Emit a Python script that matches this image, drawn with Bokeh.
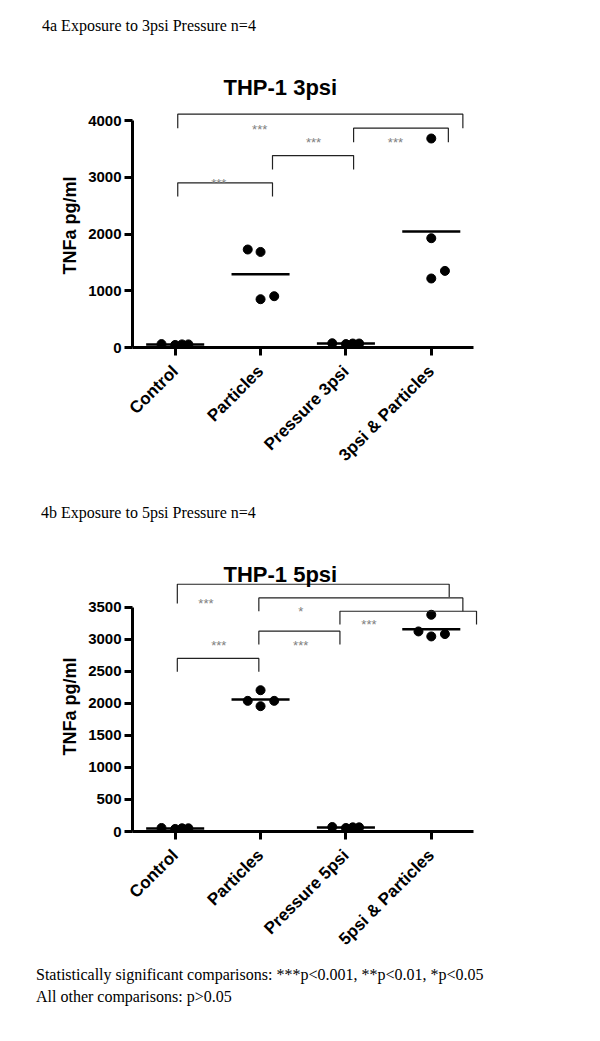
import numpy as np
from bokeh.plotting import figure
from bokeh.models import ColumnDataSource, FixedTicker, Div, Range1d, CustomJSTickFormatter
from bokeh.layouts import column
from bokeh.embed import file_html
from bokeh.resources import INLINE
from bokeh.core.properties import value

# ---------------- data ----------------
categories_3 = ["Control", "Particles", "Pressure 3psi", "3psi & Particles"]
categories_5 = ["Control", "Particles", "Pressure 5psi", "5psi & Particles"]

# THP-1 3psi, TNFa pg/ml (n=4)
control_3 = [60, 45, 55, 55]
particles_3 = [1727, 1684, 851, 904]
pressure_3 = [75, 60, 70, 70]
combo_3 = [3683, 1926, 1216, 1350]
jitter_3 = [[-0.16, 0.0, 0.08, 0.155], [-0.15, 0.0, 0.0, 0.16],
            [-0.16, 0.0, 0.08, 0.155], [0.0, 0.0, 0.0, 0.16]]

# THP-1 5psi, TNFa pg/ml (n=4)
control_5 = [55, 40, 50, 50]
particles_5 = [2204, 2038, 1955, 2038]
pressure_5 = [70, 55, 65, 65]
combo_5 = [3381, 3121, 3043, 3080]
jitter_5 = [[-0.16, 0.0, 0.08, 0.155], [0.0, -0.15, 0.0, 0.16],
            [-0.16, 0.0, 0.08, 0.155], [0.0, -0.15, 0.0, 0.16]]

yticks_3 = [0, 1000, 2000, 3000, 4000]
yticks_5 = [0, 500, 1000, 1500, 2000, 2500, 3000, 3500]

# significance brackets (category units / pg/ml)
br3_x0 = [0.03, 1.14, 2.09, 0.03]
br3_x1 = [1.14, 2.09, 3.20, 3.37]
br3_y = [2902, 3383, 3865, 4111]
br3_drop0 = [2660, 3137, 3618, 3865]
br3_drop1 = [2660, 3137, 3618, 3865]
br3_text = ["***", "***", "***", "***"]
br3_tx = [0.51, 1.62, 2.58, 0.99]
br3_ty = [2943, 3665, 3665, 3899]

br5_x0 = [0.025, 0.98, 1.93, 0.98, 0.025]
br5_x1 = [0.98, 1.93, 3.53, 3.37, 3.21]
br5_y = [2700, 3125, 3436, 3643, 3857]
br5_drop0 = [2491, 2918, 3229, 3436, 3556]
br5_drop1 = [2491, 2918, 3229, 3436, 3659]
br5_text = ["***", "***", "***", "*", "***"]
br5_tx = [0.51, 1.47, 2.27, 1.47, 0.36]
br5_ty = [2949, 2953, 3270, 3478, 3596]

SANS = "Liberation Sans"
SERIF = "Liberation Serif"


def make_panel(title, cats, groups, jitters, y_range, yticks, y_bound,
               frame_h, top, bottom, title_standoff,
               bx0, bx1, by, bd0, bd1, btext, btx, bty):
    p = figure(x_range=Range1d(-0.5, 3.6), y_range=Range1d(*y_range),
               frame_width=350, frame_height=frame_h,
               min_border_left=132, min_border_right=110,
               min_border_top=top, min_border_bottom=bottom,
               output_backend="svg", toolbar_location=None)
    p.grid.visible = False
    p.outline_line_color = None
    p.background_fill_color = "white"
    p.border_fill_color = "white"

    # title
    p.title.text = title
    p.title.align = "left"
    p.title.offset = 91
    p.title.standoff = title_standoff
    p.title.text_font = SANS
    p.title.text_font_size = "22px"
    p.title.text_font_style = "bold"
    p.title.text_color = "black"

    # axes
    xa = p.xaxis[0]
    xa.ticker = FixedTicker(ticks=list(range(len(cats))))
    xa.formatter = CustomJSTickFormatter(
        args=dict(cats=cats),
        code="const i = Math.round(tick); return (i >= 0 && i < cats.length) ? cats[i] : '';")
    xa.major_label_orientation = np.pi / 4
    xa.bounds = (-0.5, 3.5)
    ya = p.yaxis[0]
    ya.ticker = FixedTicker(ticks=yticks)
    ya.bounds = y_bound
    ya.axis_label = "TNFa pg/ml"
    ya.axis_label_standoff = 5
    ya.axis_label_text_font = SANS
    ya.axis_label_text_font_size = "18px"
    ya.axis_label_text_font_style = "bold"
    ya.axis_label_text_color = "black"
    for ax in (xa, ya):
        ax.axis_line_width = 3
        ax.axis_line_color = "black"
        ax.major_tick_line_width = 3
        ax.major_tick_line_color = "black"
        ax.major_tick_out = 8
        ax.major_tick_in = 0
        ax.minor_tick_line_color = None
        ax.major_label_text_font = SANS
        ax.major_label_text_font_style = "bold"
        ax.major_label_text_color = "black"
    xa.major_label_text_font_size = "17px"
    xa.major_label_standoff = 13
    ya.major_label_text_font_size = "15px"
    ya.major_label_standoff = 3

    # scatter points and mean lines
    xs, ys, mx0, mx1, my = [], [], [], [], []
    for i, (vals, jit) in enumerate(zip(groups, jitters)):
        xs += [i + j for j in jit]
        ys += list(vals)
        mx0.append(i - 0.34)
        mx1.append(i + 0.34)
        my.append(float(np.mean(vals)))
    p.segment(x0=mx0, y0=my, x1=mx1, y1=my, line_color="black", line_width=2.5)
    p.scatter(x=xs, y=ys, size=9, color="black")

    # brackets
    bxs = [[a, a, b, b] for a, b in zip(bx0, bx1)]
    bys = [[d0, h, h, d1] for d0, h, d1 in zip(bd0, by, bd1)]
    p.multi_line(xs=bxs, ys=bys, line_color="#222222", line_width=1.2)
    src = ColumnDataSource(dict(x=btx, y=bty, t=btext))
    p.text(x="x", y="y", text="t", source=src, text_font=value(SANS),
           text_font_size="13px", text_color="#808080", text_align="center",
           text_baseline="middle", y_offset=3)
    return p


def caption(lines, height, pad_top, pad_left):
    inner = "<br>".join(lines)
    html = ('<div style="font-family:\'Liberation Serif\',serif;font-size:16px;'
            'line-height:22px;color:#000;white-space:nowrap;'
            f'padding-top:{pad_top}px;padding-left:{pad_left}px">{inner}</div>')
    return Div(text=html, width=592, height=height, margin=0)


p1 = make_panel("THP-1 3psi", categories_3,
                [control_3, particles_3, pressure_3, combo_3], jitter_3,
                (0, 4300), yticks_3, (0, 4000), 244, 45, 143, 7,
                br3_x0, br3_x1, br3_y, br3_drop0, br3_drop1, br3_text, br3_tx, br3_ty)
p2 = make_panel("THP-1 5psi", categories_5,
                [control_5, particles_5, pressure_5, combo_5], jitter_5,
                (0, 3900), yticks_5, (0, 3500), 250, 41, 123, -11,
                br5_x0, br5_x1, br5_y, br5_drop0, br5_drop1, br5_text, br5_tx, br5_ty)

d1 = caption(["4a Exposure to 3psi Pressure n=4"], 58, 15, 42)
d2 = caption(["4b Exposure to 5psi Pressure n=4"], 50, 12, 41)
d3 = caption(["Statistically significant comparisons: ***p&lt;0.001, **p&lt;0.01, *p&lt;0.05",
              "All other comparisons: p&gt;0.05"], 70, 6, 36)

layout = column(d1, p1, d2, p2, d3, spacing=0)
open("out.html", "w").write(file_html(layout, INLINE))
